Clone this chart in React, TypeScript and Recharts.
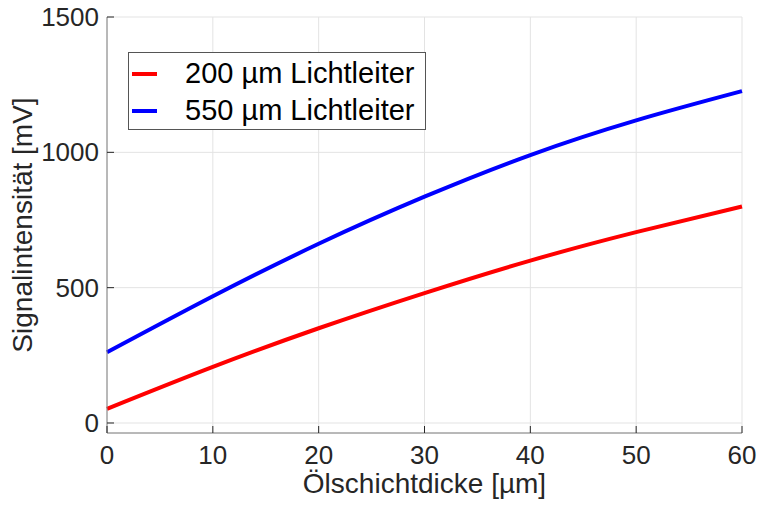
import React from "react";
import { LineChart, Line, XAxis, YAxis, CartesianGrid } from "recharts";

const thickness = [0, 10, 20, 30, 40, 50, 60];
const fiber200 = [52, 207, 350, 480, 600, 705, 800];
const fiber550 = [261, 468, 662, 836, 990, 1118, 1226];
const xTicks = [0, 10, 20, 30, 40, 50, 60];
const yTicks = [0, 500, 1000, 1500];
const seriesNames = ["200 µm Lichtleiter", "550 µm Lichtleiter"];
const seriesColors = ["#ff0000", "#0000ff"];

const data = thickness.map((t, i) => ({ t, a: fiber200[i], b: fiber550[i] }));

const FONT = "'Liberation Sans', Arial, sans-serif";
const TXT = "#262626";
const AX = "#808080";

const LeftTick = (p: any) => (
  <g>
    <text x={p.x} y={p.y} dy={9} textAnchor="end" fontSize={26} fill={TXT} fontFamily={FONT}>
      {p.payload.value}
    </text>
    <line x1={p.x + 8} x2={p.x + 15} y1={p.y} y2={p.y} stroke={TXT} strokeWidth={1} />
  </g>
);

const BottomTick = (p: any) => (
  <g>
    <text x={p.x} y={p.y} dy={21} textAnchor="middle" fontSize={26} fill={TXT} fontFamily={FONT}>
      {p.payload.value}
    </text>
    <line x1={p.x} x2={p.x} y1={p.y - 10} y2={p.y - 17} stroke={TXT} strokeWidth={1} />
  </g>
);

const RightTick = (p: any) => (
  <line x1={p.x} x2={p.x - 7} y1={p.y} y2={p.y} stroke={TXT} strokeWidth={1} />
);

const TopTick = (p: any) => (
  <line x1={p.x} x2={p.x} y1={p.y} y2={p.y + 7} stroke={TXT} strokeWidth={1} />
);

const LegendBox = () => (
  <div
    style={{
      position: "absolute",
      left: 128,
      top: 52,
      border: "1px solid #555",
      background: "#fff",
      width: 298,
      height: 78,
      boxSizing: "border-box",
      fontFamily: FONT,
      fontSize: 29,
      color: "#000",
      padding: "2px 0 0 3px",
    }}
  >
    {seriesNames.map((n, i) => (
      <div key={n} style={{ display: "flex", alignItems: "center", height: 37 }}>
        <span
          style={{ display: "inline-block", width: 25, height: 4, background: seriesColors[i], marginRight: 28 }}
        />
        <span>{n}</span>
      </div>
    ))}
  </div>
);

export default function App() {
  return (
    <div style={{ position: "absolute", left: 0, top: 0, background: "#fff" }}>
      <LineChart
        width={758}
        height={509}
        data={data}
        margin={{ top: 17, right: 16, bottom: 16, left: 0 }}
      >
        <CartesianGrid stroke="#e3e3e3" strokeWidth={1} />
        <XAxis
          dataKey="t"
          type="number"
          domain={[0, 60]}
          ticks={xTicks}
          height={60}
          tickSize={0}
          tickMargin={10}
          tickLine={false}
          axisLine={{ stroke: AX }}
          tick={<BottomTick />}
          label={{
            value: "Ölschichtdicke [µm]",
            position: "insideBottom",
            offset: 0,
            fontSize: 28,
            fill: TXT,
            fontFamily: FONT,
          }}
        />
        <XAxis
          xAxisId="top"
          orientation="top"
          dataKey="t"
          type="number"
          domain={[0, 60]}
          ticks={xTicks}
          height={0}
          tickSize={0}
          tickLine={false}
          axisLine={{ stroke: AX }}
          tick={<TopTick />}
        />
        <YAxis
          type="number"
          domain={[-37, 1500]}
          ticks={yTicks}
          width={107}
          tickSize={0}
          tickMargin={8}
          tickLine={false}
          axisLine={{ stroke: AX }}
          tick={<LeftTick />}
          label={{
            value: "Signalintensität [mV]",
            angle: -90,
            position: "insideLeft",
            offset: 22,
            style: { textAnchor: "middle" },
            fontSize: 28,
            fill: TXT,
            fontFamily: FONT,
          }}
        />
        <YAxis
          yAxisId="right"
          orientation="right"
          type="number"
          domain={[-37, 1500]}
          ticks={yTicks}
          width={0}
          tickSize={0}
          tickLine={false}
          axisLine={{ stroke: AX }}
          tick={<RightTick />}
        />
        <Line
          dataKey="a"
          name={seriesNames[0]}
          type="natural"
          stroke={seriesColors[0]}
          strokeWidth={4}
          dot={false}
          isAnimationActive={false}
        />
        <Line
          dataKey="b"
          name={seriesNames[1]}
          type="natural"
          stroke={seriesColors[1]}
          strokeWidth={4}
          dot={false}
          isAnimationActive={false}
        />
      </LineChart>
      <LegendBox />
    </div>
  );
}
